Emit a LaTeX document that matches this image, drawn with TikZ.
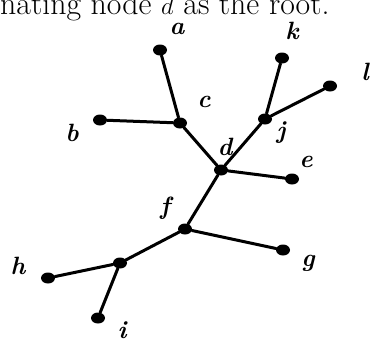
\documentclass[tikz,border=0pt]{standalone}
\usepackage{fontspec}
\usepackage{tikz}
\usetikzlibrary{shapes.geometric, positioning}

\begin{document}
\begin{tikzpicture}[
    x=1pt, y=-1pt,
    vtx/.style={ellipse, fill=black, inner sep=0pt, minimum width=14pt, minimum height=11pt},
    lbl/.style={font=\fontsize{25}{28}\selectfont\bfseries\itshape, inner sep=0pt},
    edge/.style={line width=3pt, line cap=round}
]
\useasboundingbox (0,0) rectangle (387,343);
\clip (0,0) rectangle (387,343);

% caption line, cut at the top
\node[anchor=base west, inner sep=0pt, font=\fontsize{31.8}{36}\selectfont] (cap) at (0,14) {nating node $d$ as the root.};

% vertices
\node[vtx] (a) at (160,50) {};
\node[vtx] (k) at (282,58) {};
\node[vtx] (l) at (330,86) {};
\node[vtx] (b) at (100,120) {};
\node[vtx] (c) at (180,123) {};
\node[vtx] (j) at (265,119) {};
\node[vtx] (d) at (221,170) {};
\node[vtx] (e) at (292,179) {};
\node[vtx] (f) at (185,229) {};
\node[vtx] (g) at (283,250) {};
\node[vtx] (m) at (120,263) {};
\node[vtx] (h) at (48,278) {};
\node[vtx] (i) at (98,318) {};

% labels
\node[lbl] (la) at (177,29) {a};
\node[lbl] (lk) at (292,31) {k};
\node[lbl] (ll) at (365,72) {l};
\node[lbl] (lc) at (204,102) {c};
\node[lbl] (lb) at (72,133) {b};
\node[lbl] (lj) at (281,133) {j};
\node[lbl] (ld) at (225,147) {d};
\node[lbl] (le) at (306,162) {e};
\node[lbl] (lf) at (165,208) {f};
\node[lbl] (lg) at (308,263) {g};
\node[lbl] (lh) at (18,266) {h};
\node[lbl] (li) at (122,330) {i};

% edges
\draw[edge] (a) -- (c);
\draw[edge] (b) -- (c);
\draw[edge] (c) -- (d);
\draw[edge] (k) -- (j);
\draw[edge] (l) -- (j);
\draw[edge] (j) -- (d);
\draw[edge] (d) -- (e);
\draw[edge] (d) -- (f);
\draw[edge] (f) -- (g);
\draw[edge] (f) -- (m);
\draw[edge] (m) -- (h);
\draw[edge] (m) -- (i);
\end{tikzpicture}
\end{document}
